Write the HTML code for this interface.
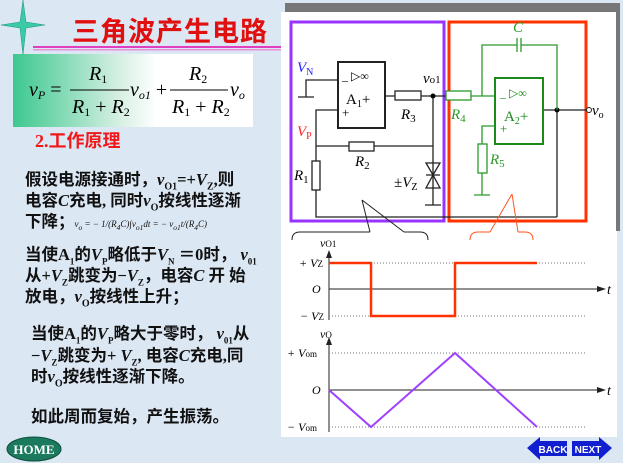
<!DOCTYPE html>
<html><head><meta charset="utf-8"><style>
body{margin:0;width:623px;height:463px;overflow:hidden;background:#dce7f4;position:relative;font-family:"Liberation Serif","Noto Serif CJK SC",serif}
.a{position:absolute;white-space:nowrap}
.t{font-weight:bold;font-size:16.5px;color:#111;font-family:"Liberation Serif","Noto Sans CJK SC",serif}
i{font-style:italic}
</style></head><body>
<svg class="a" style="left:0;top:0" width="623" height="463">
<defs><linearGradient id="g" x1="0" x2="1"><stop offset="0" stop-color="#3cc88e"/><stop offset="0.45" stop-color="#d8f0e4"/><stop offset="0.6" stop-color="#fff"/></linearGradient></defs>
<polygon points="23,0 26,22 45,25 26,28 23,55 20,28 1,25 20,22" fill="#3bc9a6" stroke="#1a9a80" stroke-width="0.5"/>
<rect x="33" y="46" width="253" height="2" fill="#e040c0"/><rect x="33" y="49" width="253" height="1.5" fill="#e890d8"/>
<rect x="13" y="54" width="240" height="73" fill="url(#g)"/>
<rect x="281" y="12" width="336" height="425" fill="#fff"/>
<rect x="285" y="3" width="335" height="9" fill="#777"/><rect x="616" y="3" width="4" height="228" fill="#777"/>
<g font-family="Liberation Serif,serif" font-size="13">
<rect x="291" y="22" width="153" height="199" fill="none" stroke="#9933ff" stroke-width="3"/>
<rect x="449" y="22" width="137" height="199" fill="none" stroke="#ff3300" stroke-width="3"/>
<g stroke="#222" stroke-width="1.3" fill="none">
<rect x="338" y="62" width="47" height="66" stroke-width="2"/>
<path d="M338,80H306V97M298,97H314M338,110H316V217H557M385,96H395M421,96H446M433,96V205M316,146H433M425,205H441"/>
<rect x="395" y="91" width="26" height="9" fill="#fff"/><rect x="349" y="142" width="25" height="9" fill="#fff"/><rect x="312" y="161" width="8" height="29" fill="#fff"/>
<path d="M426,163H440L433,175ZM426,188H440L433,175ZM426,175H440"/>
<path d="M557,110V217M543,110H587"/>
</g>
<circle cx="433" cy="96" r="2.5"/><circle cx="557" cy="110" r="2.5"/><circle cx="589" cy="110" r="2.5" fill="#fff" stroke="#222"/>
<g stroke="#2a9a2a" stroke-width="1.3" fill="none">
<rect x="495" y="78" width="48" height="66" stroke="#1a8a1a" stroke-width="2"/>
<path d="M471,96H495M482,96V45H517M521,45H557V110M517,38V52M521,38V52M495,126H482V144M482,173V195M474,195H490"/>
<rect x="446" y="91" width="25" height="9" fill="#fff"/><rect x="478" y="144" width="9" height="29" fill="#fff"/>
</g>
<text x="342" y="80" font-size="12">_ ▷∞</text><text x="346" y="104" font-size="15">A<tspan font-size="10" dy="3">1</tspan><tspan dy="-3">+</tspan></text><text x="342" y="117">+</text>
<text x="500" y="97" font-size="12" fill="#1a8a1a">_ ▷∞</text><text x="504" y="121" font-size="15" fill="#1a8a1a">A<tspan font-size="10" dy="3">2</tspan><tspan dy="-3">+</tspan></text><text x="500" y="133" fill="#1a8a1a">+</text>
<text x="297" y="72" fill="#2222ff" font-style="italic" font-size="15">V<tspan font-size="10" font-style="normal" dy="3">N</tspan></text>
<text x="297" y="136" fill="#ff2222" font-style="italic" font-size="15">V<tspan font-size="10" font-style="normal" dy="3">P</tspan></text>
<text x="423" y="83" font-style="italic" font-size="15">v<tspan font-size="11" font-style="normal">o1</tspan></text>
<text x="401" y="119" font-style="italic" font-size="15">R<tspan font-size="11" font-style="normal" dy="3">3</tspan></text>
<text x="451" y="119" fill="#2a9a2a" font-style="italic" font-size="15">R<tspan font-size="11" font-style="normal" dy="3">4</tspan></text>
<text x="355" y="166" font-style="italic" font-size="15">R<tspan font-size="11" font-style="normal" dy="3">2</tspan></text>
<text x="294" y="180" font-style="italic" font-size="15">R<tspan font-size="11" font-style="normal" dy="3">1</tspan></text>
<text x="490" y="164" fill="#2a9a2a" font-style="italic" font-size="15">R<tspan font-size="11" font-style="normal" dy="3">5</tspan></text>
<text x="513" y="32" fill="#2a9a2a" font-style="italic" font-size="15">C</text>
<text x="394" y="187" font-size="15">±<tspan font-style="italic">V</tspan><tspan font-size="10" dy="3">Z</tspan></text>
<text x="592" y="115" font-style="italic" font-size="15">v<tspan font-size="10" font-style="normal" dy="3">o</tspan></text>
<path d="M292,240Q292,232 300,232H370M404,232H420Q428,232 428,240M370,232L362,200M404,232L362,200" fill="none" stroke="#222"/>
<path d="M470,240Q470,232 478,232H490M518,232H525Q533,232 533,240M490,232L512,194M518,232L512,194" fill="none" stroke="#ff5522"/>
<g stroke="#222" fill="none"><path d="M329,255V320M329,338V432M329,289H598M329,390H598"/>
<path d="M329,263H585M329,316H585M329,353H585M329,427H585" stroke="#777" stroke-dasharray="1,2"/></g>
<path d="M326,258L329,250L332,258ZM326,345L329,337L332,345ZM597,286L606,289L597,292ZM597,387L606,390L597,393Z" fill="#222"/>
<path d="M329,263H371V316H455V263H537" fill="none" stroke="#ff3300" stroke-width="2.5"/>
<path d="M329,390L371,427L455,353L537,427" fill="none" stroke="#a040ff" stroke-width="2"/>
<g font-style="italic" font-size="12"><text x="320" y="247">v<tspan font-size="9" font-style="normal">O1</tspan></text><text x="299" y="267">+ V<tspan font-size="9" font-style="normal">Z</tspan></text><text x="312" y="293">O</text><text x="300" y="320">− V<tspan font-size="9" font-style="normal">Z</tspan></text><text x="607" y="294" font-size="14">t</text>
<text x="320" y="338">v<tspan font-size="9" font-style="normal">O</tspan></text><text x="287" y="357">+ V<tspan font-size="9" font-style="normal">om</tspan></text><text x="312" y="394">O</text><text x="287" y="431">− V<tspan font-size="9" font-style="normal">om</tspan></text><text x="607" y="395" font-size="14">t</text></g>
</g>
<ellipse cx="34" cy="449" rx="27" ry="12" fill="#1b7a5e" stroke="#0c4f3a"/><text x="34" y="454" text-anchor="middle" font-family="Liberation Serif" font-weight="bold" font-size="13" fill="#fff">HOME</text>
<polygon points="527,448 540,437 540,441 567,441 567,456 540,456 540,460" fill="#1020d0"/>
<polygon points="612,448 599,437 599,441 572,441 572,456 599,456 599,460" fill="#1020d0"/>
<text x="553" y="453" text-anchor="middle" font-family="Liberation Sans" font-weight="bold" font-size="10" fill="#fff">BACK</text>
<text x="588" y="453" text-anchor="middle" font-family="Liberation Sans" font-weight="bold" font-size="10" fill="#fff">NEXT</text>
</svg>
<div class="a" style="left:72px;top:10px;font-size:27px;font-weight:bold;color:#e01010;font-family:'Liberation Sans','Noto Sans CJK SC',sans-serif;letter-spacing:1px">三角波产生电路</div>
<svg class="a" style="left:25px;top:58px" width="230" height="66" font-family="Liberation Serif" font-size="20" font-style="italic">
<text x="4" y="38">v<tspan font-size="12" dy="3">P</tspan><tspan dy="-3" font-style="normal"> =</tspan></text>
<line x1="45" y1="32" x2="104" y2="32" stroke="#000"/><text x="64" y="22">R<tspan font-size="12" font-style="normal" dy="3">1</tspan></text>
<text x="47" y="55">R<tspan font-size="12" font-style="normal" dy="3">1</tspan><tspan dy="-3" font-style="normal"> + </tspan>R<tspan font-size="12" font-style="normal" dy="3">2</tspan></text>
<text x="105" y="38">v<tspan font-size="12" dy="3">o1</tspan><tspan dy="-3" font-style="normal"> +</tspan></text>
<line x1="145" y1="32" x2="203" y2="32" stroke="#000"/><text x="164" y="22">R<tspan font-size="12" font-style="normal" dy="3">2</tspan></text>
<text x="147" y="55">R<tspan font-size="12" font-style="normal" dy="3">1</tspan><tspan dy="-3" font-style="normal"> + </tspan>R<tspan font-size="12" font-style="normal" dy="3">2</tspan></text>
<text x="205" y="38">v<tspan font-size="12" dy="3">o</tspan></text>
</svg>
<div class="a" style="left:35px;top:127px;font-size:18px;font-weight:bold;color:#f01818;font-family:'Liberation Serif','Noto Sans CJK SC',serif">2.工作原理</div>
<div class="a t" style="left:25px;top:166px">假设电源接通时，<i>v</i><sub style="font-size:10px">O1</sub>=+<i>V</i><sub style="font-size:10px">Z</sub>,则</div>
<div class="a t" style="left:25px;top:187px">电容<i>C</i>充电, 同时<i>v</i><sub style="font-size:10px">O</sub>按线性逐渐</div>
<div class="a t" style="left:25px;top:208px">下降；<span style="font-weight:normal;font-size:9px;font-style:italic">v<sub>o</sub> = − 1/(R<sub>4</sub>C)∫v<sub>o1</sub>dt = − v<sub>o1</sub>t/(R<sub>4</sub>C)</span></div>
<div class="a t" style="left:25px;top:241px">当使A<sub style="font-size:9px">1</sub>的<i>V</i><sub style="font-size:9px">P</sub>略低于<i>V</i><sub style="font-size:9px">N</sub> ＝0时， <i>v</i><sub style="font-size:9px">01</sub></div>
<div class="a t" style="left:25px;top:262px">从+<i>V</i><sub style="font-size:9px">Z</sub>跳变为−<i>V</i><sub style="font-size:9px">Z</sub>，电容<i>C</i> 开 始</div>
<div class="a t" style="left:25px;top:283px">放电，<i>v</i><sub style="font-size:10px">O</sub>按线性上升；</div>
<div class="a t" style="left:31px;top:320px">当使A<sub style="font-size:9px">1</sub>的<i>V</i><sub style="font-size:9px">P</sub>略大于零时，  <i>v</i><sub style="font-size:9px">01</sub>从</div>
<div class="a t" style="left:31px;top:342px">−<i>V</i><sub style="font-size:9px">Z</sub>跳变为+ <i>V</i><sub style="font-size:9px">Z</sub>, 电容<i>C</i>充电,同</div>
<div class="a t" style="left:31px;top:363px">时<i>v</i><sub style="font-size:10px">O</sub>按线性逐渐下降。</div>
<div class="a t" style="left:31px;top:403px">如此周而复始，产生振荡。</div>
</body></html>
